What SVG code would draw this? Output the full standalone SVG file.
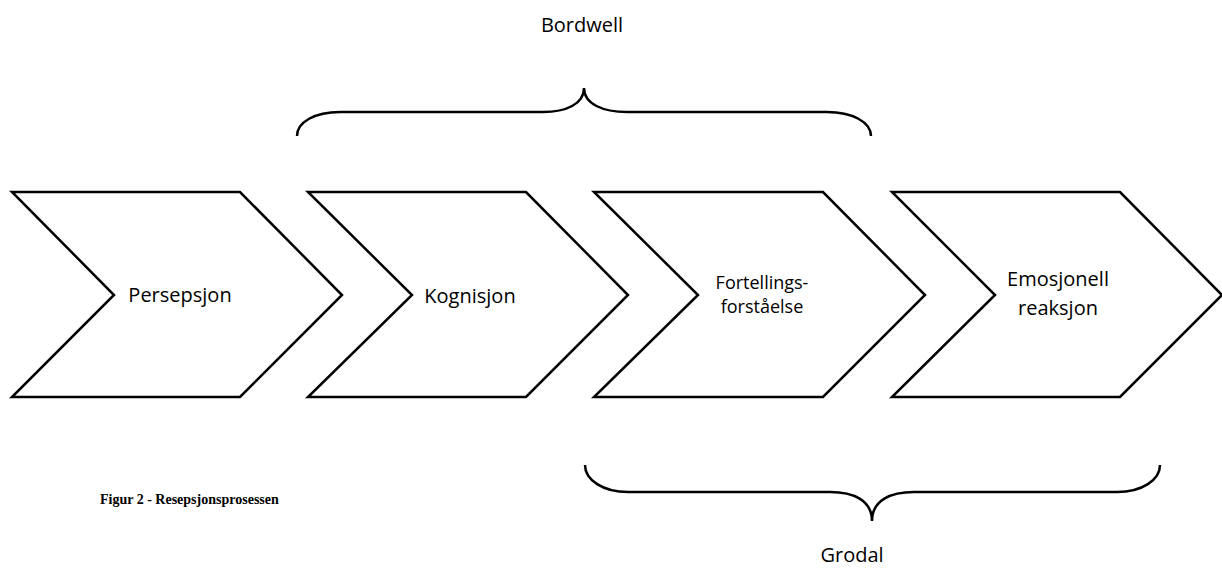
<svg xmlns="http://www.w3.org/2000/svg" width="1222" height="570" viewBox="0 0 1222 570">
<style>
.chev{fill:#fff;stroke:#000;stroke-width:2.5;stroke-linejoin:miter}
.brace{fill:none;stroke:#000;stroke-width:2.5}
.lbl{font-family:"Open Sans","Liberation Sans",sans-serif;font-size:20px;fill:#000;text-anchor:middle}
.cap{font-family:"Liberation Serif","Times New Roman",serif;font-size:14px;font-weight:bold;fill:#000}
</style>
<rect width="1222" height="570" fill="#fff"/>
<g id="persepsjon">
<polygon class="chev" points="12,192 240,192 342,295 240,397 12,397 114,295"/>
<text class="lbl" x="180" y="302">Persepsjon</text>
</g>
<g id="kognisjon">
<polygon class="chev" points="308,192 526,192 628,295 526,397 308,397 412,295"/>
<text class="lbl" x="470" y="303">Kognisjon</text>
</g>
<g id="fortellingsforstaelse">
<polygon class="chev" points="594,192 823,192 925,295 823,397 594,397 698,295"/>
<text class="lbl" x="762" y="289" style="font-size:18px">Fortellings-</text>
<text class="lbl" x="762" y="313" style="font-size:18px">forståelse</text>
</g>
<g id="emosjonell">
<polygon class="chev" points="892,192 1120,192 1222,295 1120,397 892,397 995,295"/>
<text class="lbl" x="1058" y="286">Emosjonell</text>
<text class="lbl" x="1058" y="315">reaksjon</text>
</g>
<g id="connectors">
<path class="brace" d="M297,136 C297,122 315,112 340,112 H543 C566,112 584,104 584,88 C584,104 603,112 627,112 H827 C852,112 871,122 871,136"/>
<path class="brace" d="M585,465 C585,480 603,492 628,492 H830 C853,492 872,500 872,521 C872,500 891,492 914,492 H1117 C1142,492 1160,480 1160,465"/>
</g>
<g id="bordwell"><text class="lbl" x="582" y="32">Bordwell</text></g>
<g id="grodal"><text class="lbl" x="852" y="562">Grodal</text></g>
<g id="caption"><text class="cap" x="100" y="504">Figur 2 - Resepsjonsprosessen</text></g>
</svg>
